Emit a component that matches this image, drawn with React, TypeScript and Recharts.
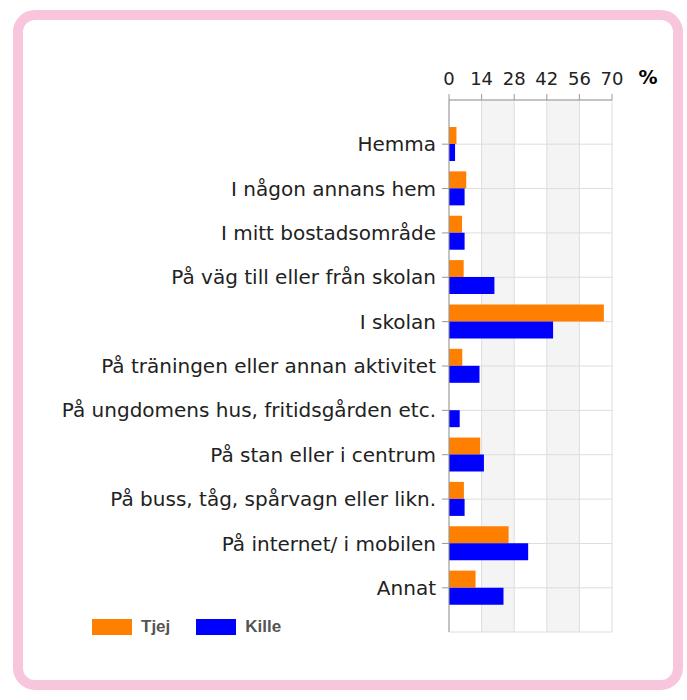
import React from "react";
import { Bar, BarChart, CartesianGrid, XAxis, YAxis } from "recharts";

const platser = [
  "Hemma",
  "I någon annans hem",
  "I mitt bostadsområde",
  "På väg till eller från skolan",
  "I skolan",
  "På träningen eller annan aktivitet",
  "På ungdomens hus, fritidsgården etc.",
  "På stan eller i centrum",
  "På buss, tåg, spårvagn eller likn.",
  "På internet/ i mobilen",
  "Annat",
];
const tjej = [3.2, 7.4, 5.6, 6.3, 66.5, 5.7, 0, 13.4, 6.4, 25.6, 11.4];
const kille = [2.6, 6.7, 6.7, 19.5, 44.7, 13.1, 4.6, 15, 6.7, 34, 23.4];
const xTicks = [0, 14, 28, 42, 56, 70];

const serier = [
  { key: "tjej", namn: "Tjej", farg: "#ff7f00" },
  { key: "kille", namn: "Kille", farg: "#0000ff" },
];

const dados = platser.map((plats, i) => ({ plats, tjej: tjej[i], kille: kille[i] }));

const fonte = "'DejaVu Sans', sans-serif";

export default function App() {
  return (
    <div style={{ position: "absolute", left: 0, top: 0, width: 687, height: 700, background: "#fff" }}>
      <div
        style={{
          position: "absolute",
          left: 13,
          top: 10,
          width: 670,
          height: 680,
          border: "10px solid #f8c6dc",
          borderRadius: 22,
          boxSizing: "border-box",
        }}
      />
      <div style={{ position: "absolute", left: 0, top: 0 }}>
        <BarChart
          width={687}
          height={700}
          data={dados}
          layout="vertical"
          margin={{ top: 70, right: 75, bottom: 68, left: 0 }}
          barGap={0}
          barSize={17}
        >
          <CartesianGrid stroke="#dddddd" verticalFill={["#ffffff", "#f4f4f4"]} />
          <XAxis
            type="number"
            orientation="top"
            domain={[0, 70]}
            ticks={xTicks}
            height={30}
            interval={0}
            tickSize={6}
            tickMargin={9}
            stroke="#999"
            tick={{ fill: "#222", fontSize: 18, fontFamily: fonte }}
            label={(props: any) => {
              const vb = props.viewBox || {};
              return (
                <text
                  x={vb.x + vb.width + 36}
                  y={vb.y + vb.height - 16}
                  textAnchor="middle"
                  fontSize={19}
                  fontWeight={900}
                  fontFamily={fonte}
                  fill="#000"
                >
                  %
                </text>
              );
            }}
          />
          <YAxis
            type="category"
            dataKey="plats"
            width={449}
            padding={{ top: 22, bottom: 22 }}
            tickSize={7}
            tickMargin={6}
            interval={0}
            stroke="#999"
            tick={{ fill: "#222", fontSize: 20, fontFamily: fonte }}
          />
          {serier.map((s) => (
            <Bar key={s.key} dataKey={s.key} name={s.namn} fill={s.farg} isAnimationActive={false} />
          ))}
        </BarChart>
      </div>
      <div
        style={{
          position: "absolute",
          left: 92,
          top: 617,
          display: "flex",
          alignItems: "center",
          fontFamily: "Arial, 'Liberation Sans', sans-serif",
        }}
      >
        {serier.map((s) => (
          <div key={s.key} style={{ display: "flex", alignItems: "center", marginRight: 26 }}>
            <div style={{ width: 40, height: 16, background: s.farg, marginRight: 9 }} />
            <span style={{ fontSize: 17, fontWeight: "bold", color: "#555" }}>{s.namn}</span>
          </div>
        ))}
      </div>
    </div>
  );
}
